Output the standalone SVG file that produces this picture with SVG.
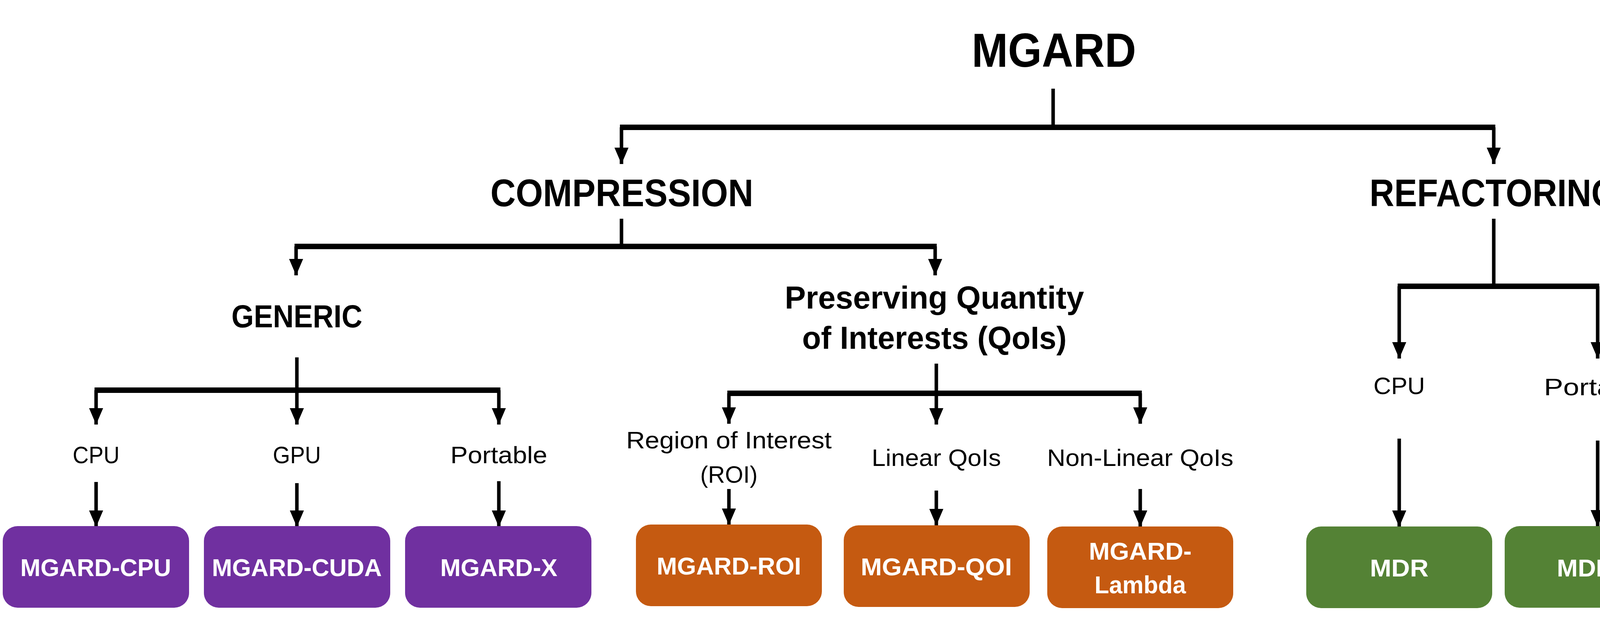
<svg xmlns="http://www.w3.org/2000/svg" width="4335" height="1590" viewBox="0 0 4335 1590">
<style>
text{font-family:"Liberation Sans",Arial,sans-serif;text-anchor:middle;fill:#000}
.h1{font-weight:bold;font-size:123px}
.h2{font-weight:bold;font-size:98px}
.h3{font-weight:bold;font-size:82px}
.lb{font-size:62px}
.bx{font-weight:bold;font-size:63px;fill:#fff}
.c line{stroke:#000;stroke-width:9}
.c .bus{stroke-width:14}
.p{fill:#7030A0}.o{fill:#C55A11}.g{fill:#548235}
</style>
<defs>
<marker id="ah" markerUnits="userSpaceOnUse" markerWidth="44" markerHeight="40" refX="42" refY="20" orient="auto">
<path d="M0,2 L42,20 L0,38 Z" fill="#000"/>
</marker>
</defs>
<g class="c" id="connectors">
<line x1="2696" y1="227" x2="2696" y2="326"/>
<line class="bus" x1="1587" y1="326" x2="3828" y2="326"/>
<line x1="1591" y1="326" x2="1591" y2="420" marker-end="url(#ah)"/>
<line x1="3824" y1="326" x2="3824" y2="420" marker-end="url(#ah)"/>
<line x1="1591" y1="560" x2="1591" y2="631"/>
<line class="bus" x1="754" y1="631" x2="2398" y2="631"/>
<line x1="758" y1="631" x2="758" y2="705" marker-end="url(#ah)"/>
<line x1="2394" y1="631" x2="2394" y2="705" marker-end="url(#ah)"/>
<line x1="3824" y1="560" x2="3824" y2="733"/>
<line class="bus" x1="3578" y1="733" x2="4094" y2="733"/>
<line x1="3582" y1="733" x2="3582" y2="918" marker-end="url(#ah)"/>
<line x1="4090" y1="733" x2="4090" y2="918" marker-end="url(#ah)"/>
<line x1="760" y1="915" x2="760" y2="999"/>
<line class="bus" x1="242" y1="999" x2="1281" y2="999"/>
<line x1="246" y1="999" x2="246" y2="1087" marker-end="url(#ah)"/>
<line x1="760" y1="999" x2="760" y2="1087" marker-end="url(#ah)"/>
<line x1="1277" y1="999" x2="1277" y2="1087" marker-end="url(#ah)"/>
<line x1="2397" y1="931" x2="2397" y2="1007"/>
<line class="bus" x1="1862" y1="1007" x2="2923" y2="1007"/>
<line x1="1866" y1="1007" x2="1866" y2="1085" marker-end="url(#ah)"/>
<line x1="2397" y1="1007" x2="2397" y2="1087" marker-end="url(#ah)"/>
<line x1="2919" y1="1007" x2="2919" y2="1085" marker-end="url(#ah)"/>
<line x1="246" y1="1234" x2="246" y2="1349" marker-end="url(#ah)"/>
<line x1="760" y1="1237" x2="760" y2="1349" marker-end="url(#ah)"/>
<line x1="1277" y1="1232" x2="1277" y2="1349" marker-end="url(#ah)"/>
<line x1="1866" y1="1252" x2="1866" y2="1344" marker-end="url(#ah)"/>
<line x1="2397" y1="1256" x2="2397" y2="1345" marker-end="url(#ah)"/>
<line x1="2919" y1="1252" x2="2919" y2="1349" marker-end="url(#ah)"/>
<line x1="3582" y1="1123" x2="3582" y2="1349" marker-end="url(#ah)"/>
<line x1="4090" y1="1128" x2="4090" y2="1348" marker-end="url(#ah)"/>
</g>
<g id="mgard"><text class="h1" x="2698" y="171" textLength="421" lengthAdjust="spacingAndGlyphs">MGARD</text></g>
<g id="compression"><text class="h2" x="1592" y="528" textLength="673" lengthAdjust="spacingAndGlyphs">COMPRESSION</text></g>
<g id="refactoring"><text class="h2" x="3824" y="528" textLength="636" lengthAdjust="spacingAndGlyphs">REFACTORING</text></g>
<g id="generic"><text class="h3" x="760" y="838" textLength="335" lengthAdjust="spacingAndGlyphs">GENERIC</text></g>
<g id="qoi"><text class="h3" x="2392" y="790" textLength="766" lengthAdjust="spacingAndGlyphs">Preserving Quantity</text>
<text class="h3" x="2392" y="893" textLength="677" lengthAdjust="spacingAndGlyphs">of Interests (QoIs)</text></g>
<g id="g-cpu"><text class="lb" x="246" y="1186" textLength="120" lengthAdjust="spacingAndGlyphs">CPU</text></g>
<g id="g-gpu"><text class="lb" x="760" y="1186" textLength="123" lengthAdjust="spacingAndGlyphs">GPU</text></g>
<g id="g-portable"><text class="lb" x="1277" y="1186" textLength="248" lengthAdjust="spacingAndGlyphs">Portable</text></g>
<g id="roi"><text class="lb" x="1866" y="1148" textLength="526" lengthAdjust="spacingAndGlyphs">Region of Interest</text>
<text class="lb" x="1866" y="1236" textLength="147" lengthAdjust="spacingAndGlyphs">(ROI)</text></g>
<g id="linear"><text class="lb" x="2397" y="1193" textLength="331" lengthAdjust="spacingAndGlyphs">Linear QoIs</text></g>
<g id="nonlinear"><text class="lb" x="2919" y="1193" textLength="477" lengthAdjust="spacingAndGlyphs">Non-Linear QoIs</text></g>
<g id="r-cpu"><text class="lb" x="3582" y="1009" textLength="132" lengthAdjust="spacingAndGlyphs">CPU</text></g>
<g id="r-portable"><text class="lb" x="4090" y="1012" textLength="275" lengthAdjust="spacingAndGlyphs">Portable</text></g>
<g id="mgard-cpu"><rect class="p" x="7" y="1347" width="477" height="209" rx="38"/><text class="bx" x="245" y="1475" textLength="386" lengthAdjust="spacingAndGlyphs">MGARD-CPU</text></g>
<g id="mgard-cuda"><rect class="p" x="522" y="1347" width="477" height="209" rx="38"/><text class="bx" x="760" y="1475" textLength="435" lengthAdjust="spacingAndGlyphs">MGARD-CUDA</text></g>
<g id="mgard-x"><rect class="p" x="1037" y="1347" width="477" height="209" rx="38"/><text class="bx" x="1277" y="1475" textLength="300" lengthAdjust="spacingAndGlyphs">MGARD-X</text></g>
<g id="mgard-roi"><rect class="o" x="1628" y="1343" width="476" height="209" rx="38"/><text class="bx" x="1866" y="1471" textLength="370" lengthAdjust="spacingAndGlyphs">MGARD-ROI</text></g>
<g id="mgard-qoi"><rect class="o" x="2160" y="1345" width="476" height="209" rx="38"/><text class="bx" x="2397" y="1473" textLength="387" lengthAdjust="spacingAndGlyphs">MGARD-QOI</text></g>
<g id="mgard-lambda"><rect class="o" x="2681" y="1348" width="476" height="209" rx="38"/><text class="bx" x="2919" y="1433" textLength="263" lengthAdjust="spacingAndGlyphs">MGARD-</text><text class="bx" x="2919" y="1519" textLength="234" lengthAdjust="spacingAndGlyphs">Lambda</text></g>
<g id="mdr"><rect class="g" x="3344" y="1348" width="476" height="209" rx="38"/><text class="bx" x="3582" y="1476" textLength="150" lengthAdjust="spacingAndGlyphs">MDR</text></g>
<g id="mdr-x"><rect class="g" x="3852" y="1347" width="478" height="209" rx="38"/><text class="bx" x="4091" y="1476" textLength="211" lengthAdjust="spacingAndGlyphs">MDR-X</text></g>
</svg>
